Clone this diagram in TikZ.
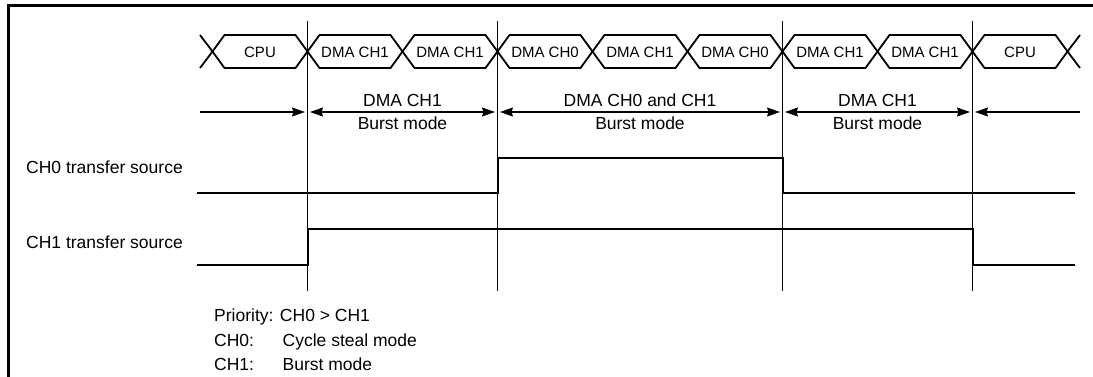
\documentclass[tikz,border=0pt]{standalone}
\usepackage{fontspec}
\setmainfont{Liberation Sans}
\usetikzlibrary{arrows.meta}
\begin{document}
\begin{tikzpicture}[x=1pt,y=-1pt,
  buslabel/.style={font=\fontsize{15}{18}\selectfont, anchor=base, inner sep=0pt},
  txt/.style={font=\fontsize{17.5}{21}\selectfont, anchor=base, inner sep=0pt},
  lefttxt/.style={txt, anchor=base west},
  frameline/.style={line width=2.4pt},
  busline/.style={line width=1.8pt, line join=miter},
  sigline/.style={line width=2pt, line join=miter},
  guide/.style={line width=0.9pt},
  dimline/.style={line width=1.2pt},
  tipr/.style={-{Stealth[length=13pt,width=9pt,inset=1.5pt]}},
  tipl/.style={{Stealth[length=13pt,width=9pt,inset=1.5pt]}-},
  tipb/.style={{Stealth[length=13pt,width=9pt,inset=1.5pt]}-{Stealth[length=13pt,width=9pt,inset=1.5pt]}}
]
\useasboundingbox (0,0) rectangle (1093,376);

% frame
\coordinate (fbl) at (8.5,380);
\coordinate (ftl) at (8.5,5.5);
\coordinate (ftr) at (1097,5.5);
\draw[frameline] (fbl) -- (ftl) -- (ftr);

% bus
\foreach \a/\b/\lab [count=\i] in {212.5/307.5/CPU, 307.5/402.5/DMA CH1, 402.5/497.5/DMA CH1,
   497.5/592.5/DMA CH0, 592.5/687.5/DMA CH1, 687.5/782.5/DMA CH0,
   782.5/877.5/DMA CH1, 877.5/972.5/DMA CH1, 972.5/1067.5/CPU}{
  \draw[busline] (\a,51.5) -- (\a+12,35) -- (\b-12,35) -- (\b,51.5) -- (\b-12,68) -- (\a+12,68) -- cycle;
  \node[buslabel] (bus\i) at ({(\a+\b)/2},57) {\lab};
}
\coordinate (xl1) at (200,35);
\coordinate (xl2) at (200,68);
\coordinate (xlc) at (212.5,51.5);
\coordinate (xr1) at (1080,35);
\coordinate (xr2) at (1080,68);
\coordinate (xrc) at (1067.5,51.5);
\draw[busline] (xl1) -- (xlc) -- (xl2);
\draw[busline] (xr1) -- (xrc) -- (xr2);

% vertical guides
\foreach \x [count=\i] in {307.5,497.5,782.5,972.5}{
  \coordinate (g\i t) at (\x,21);
  \coordinate (g\i b) at (\x,291);
  \draw[guide] (g\i t) -- (g\i b);
}

% dimension arrows
\coordinate (a0) at (200,112);
\coordinate (a1l) at (305,112);
\coordinate (a1r) at (310,112);
\coordinate (a2l) at (495,112);
\coordinate (a2r) at (500,112);
\coordinate (a3l) at (780,112);
\coordinate (a3r) at (785,112);
\coordinate (a4l) at (970,112);
\coordinate (a4r) at (975,112);
\coordinate (a5) at (1080,112);
\draw[dimline,tipr] (a0) -- (a1l);
\draw[dimline,tipb] (a1r) -- (a2l);
\draw[dimline,tipb] (a2r) -- (a3l);
\draw[dimline,tipb] (a3r) -- (a4l);
\draw[dimline,tipl] (a4r) -- (a5);

\node[txt] (m1a) at (402.5,106.5) {DMA CH1};
\node[txt] (m1b) at (402.5,129.5) {Burst mode};
\node[txt] (m2a) at (640,106.5) {DMA CH0 and CH1};
\node[txt] (m2b) at (640,129.5) {Burst mode};
\node[txt] (m3a) at (877.5,106.5) {DMA CH1};
\node[txt] (m3b) at (877.5,129.5) {Burst mode};

% signals
\node[lefttxt] (s0) at (26,173.3) {CH0 transfer source};
\node[lefttxt] (s1) at (26,248.8) {CH1 transfer source};
\coordinate (c0a) at (197,192.5);
\coordinate (c0b) at (497.5,192.5);
\coordinate (c0c) at (497.5,157.5);
\coordinate (c0d) at (782.5,157.5);
\coordinate (c0e) at (782.5,192.5);
\coordinate (c0f) at (1075,192.5);
\draw[sigline] (c0a) -- (c0b) -- (c0c) -- (c0d) -- (c0e) -- (c0f);
\coordinate (c1a) at (197,264.5);
\coordinate (c1b) at (307.5,264.5);
\coordinate (c1c) at (307.5,229);
\coordinate (c1d) at (972.5,229);
\coordinate (c1e) at (972.5,264.5);
\coordinate (c1f) at (1075,264.5);
\draw[sigline] (c1a) -- (c1b) -- (c1c) -- (c1d) -- (c1e) -- (c1f);

% notes
\node[lefttxt] (n1) at (214,321.5) {Priority: CH0 > CH1};
\node[lefttxt] (n2) at (214,346) {CH0:};
\node[lefttxt] (n2b) at (282.5,346) {Cycle steal mode};
\node[lefttxt] (n3) at (214,370.5) {CH1:};
\node[lefttxt] (n3b) at (282.5,370.5) {Burst mode};
\end{tikzpicture}
\end{document}
